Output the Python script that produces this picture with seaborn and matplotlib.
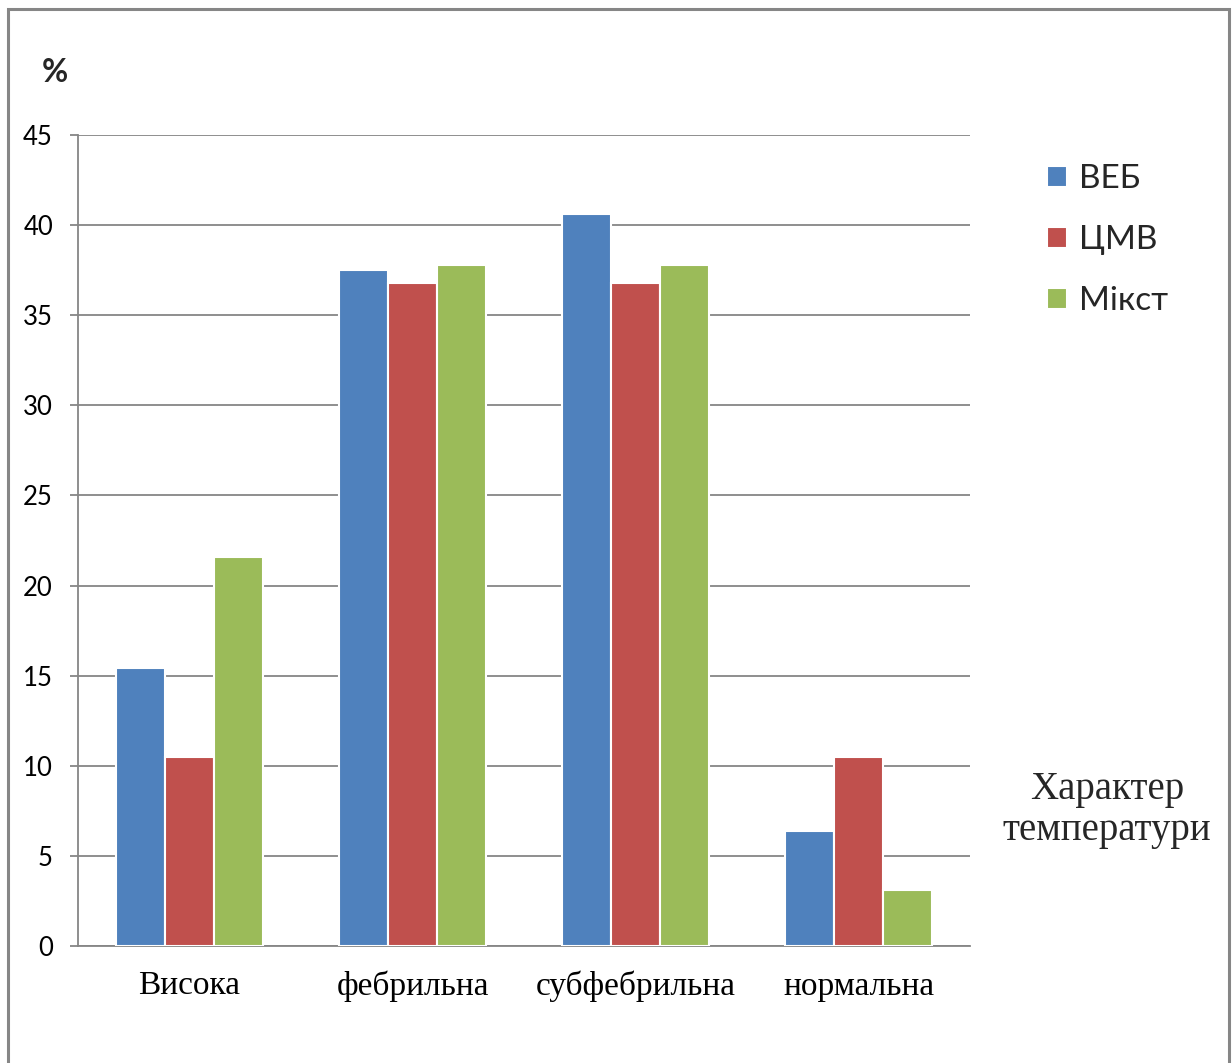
import numpy as np
import pandas as pd
import matplotlib
matplotlib.use("Agg")
import matplotlib.pyplot as plt
import seaborn as sns

categories = ["Висока", "фебрильна", "субфебрильна", "нормальна"]
series = ["ВЕБ", "ЦМВ", "Мікст"]
veb = [15.4, 37.5, 40.6, 6.4]
cmv = [10.5, 36.8, 36.8, 10.5]
mixt = [21.6, 37.8, 37.8, 3.1]
colors = ["#4F81BD", "#C0504D", "#9BBB59"]

df = pd.DataFrame({
    "cat": categories * 3,
    "group": [s for s in series for _ in categories],
    "value": veb + cmv + mixt,
})

sns.set_theme(style="white")
plt.rcParams["font.family"] = ["Lato", "DejaVu Sans"]

fig = plt.figure(figsize=(12.32, 10.63), dpi=100)
ax = fig.add_axes([78 / 1232, 1 - 946 / 1063, 892 / 1232, 811 / 1063])

sns.barplot(data=df, x="cat", y="value", hue="group", order=categories,
            hue_order=series, palette=colors, width=0.66, saturation=1,
            edgecolor="white", linewidth=1.5, ax=ax, zorder=3)

grid_c = "#868686"
ax.set_ylim(0, 45)
ax.set_yticks(np.arange(0, 46, 5))
ax.yaxis.grid(True, color=grid_c, linewidth=1.3, zorder=0)
ax.set_axisbelow(True)
ax.set_xlim(-0.5, 3.5)
for s in ["top", "right"]:
    ax.spines[s].set_visible(False)
for s in ["left", "bottom"]:
    ax.spines[s].set_color(grid_c)
    ax.spines[s].set_linewidth(1.3)
ax.tick_params(axis="y", left=True, length=6, width=1.3, color=grid_c,
               pad=12, labelsize=18.5, labelcolor="black")
ax.tick_params(axis="x", bottom=False, pad=12)
for lbl in ax.get_xticklabels():
    lbl.set_fontfamily("Liberation Serif")
    lbl.set_fontsize(24)
    lbl.set_color("black")
ax.set_xlabel("")
ax.set_ylabel("")

sns.move_legend(ax, "upper left", bbox_to_anchor=(1047 / 1232, 1 - 164 / 1063),
                bbox_transform=fig.transFigure, title=None, frameon=False,
                fontsize=24, handlelength=0.6, handleheight=0.6,
                handletextpad=0.35, labelspacing=0.93, borderpad=0, borderaxespad=0)

fig.text(42 / 1232, 1 - 73 / 1063, "%", fontsize=23, fontweight="bold",
         va="center", ha="left")
fig.text(1107 / 1232, 1 - 810 / 1063, "Характер\nтемператури",
         fontfamily="Liberation Serif", fontsize=28, ha="center", va="center",
         linespacing=1.15)

# outer frame around the chart
fig.patches.append(plt.Rectangle((8 / 1232, -0.05), 1221 / 1232, 1.05 - 9 / 1063,
                                 transform=fig.transFigure, fill=False,
                                 edgecolor=grid_c, linewidth=2.2))

fig.savefig("out.png", dpi=100)
